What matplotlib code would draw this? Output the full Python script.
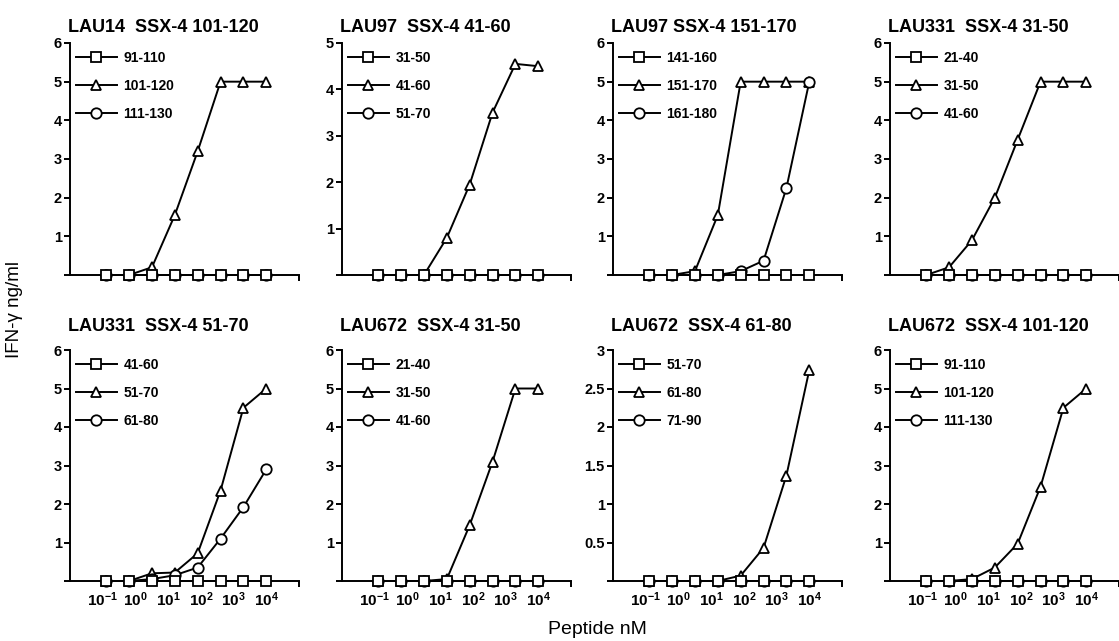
import numpy as np
import matplotlib
matplotlib.use('Agg')
import matplotlib.pyplot as plt
from matplotlib.ticker import FixedLocator, NullFormatter

plt.rcParams['font.family'] = ['Liberation Sans', 'DejaVu Sans']
plt.rcParams['mathtext.default'] = 'regular'

# peptide concentrations (nM), 5-fold dilutions
conc = [0.128, 0.64, 3.2, 16, 80, 400, 2000, 10000]

titles = ['LAU14  SSX-4 101-120', 'LAU97  SSX-4 41-60', 'LAU97 SSX-4 151-170',
          'LAU331  SSX-4 31-50', 'LAU331  SSX-4 51-70', 'LAU672  SSX-4 31-50',
          'LAU672  SSX-4 61-80', 'LAU672  SSX-4 101-120']

sq_labels = ['91-110', '31-50', '141-160', '21-40', '41-60', '21-40', '51-70', '91-110']
tri_labels = ['101-120', '41-60', '151-170', '31-50', '51-70', '31-50', '61-80', '101-120']
circ_labels = ['111-130', '51-70', '161-180', '41-60', '61-80', '41-60', '71-90', '111-130']

# IFN-gamma ng/ml, one list per panel
sq1 = [0, 0, 0, 0, 0, 0, 0, 0]
tri1 = [0, 0, 0.2, 1.55, 3.2, 5, 5, 5]
circ1 = [0, 0, 0, 0, 0, 0, 0, 0]

sq2 = [0, 0, 0, 0, 0, 0, 0, 0]
tri2 = [0, 0, 0, 0.8, 1.95, 3.5, 4.55, 4.5]
circ2 = [0, 0, 0, 0, 0, 0, 0, 0]

sq3 = [0, 0, 0, 0, 0, 0, 0, 0]
tri3 = [0, 0, 0.1, 1.55, 5, 5, 5, 5]
circ3 = [0, 0, 0, 0, 0.1, 0.37, 2.25, 5]

sq4 = [0, 0, 0, 0, 0, 0, 0, 0]
tri4 = [0, 0.2, 0.9, 2.0, 3.5, 5, 5, 5]
circ4 = [0, 0, 0, 0, 0, 0, 0, 0]

sq5 = [0, 0, 0, 0, 0, 0, 0, 0]
tri5 = [0, 0, 0.2, 0.22, 0.72, 2.35, 4.5, 5]
circ5 = [0, 0, 0.05, 0.15, 0.35, 1.1, 1.92, 2.9]

sq6 = [0, 0, 0, 0, 0, 0, 0, 0]
tri6 = [0, 0, 0, 0.05, 1.45, 3.1, 5, 5]
circ6 = [0, 0, 0, 0, 0, 0, 0, 0]

sq7 = [0, 0, 0, 0, 0, 0, 0, 0]
tri7 = [0, 0, 0, 0, 0.07, 0.43, 1.37, 2.74]
circ7 = [0, 0, 0, 0, 0, 0, 0, 0]

sq8 = [0, 0, 0, 0, 0, 0, 0, 0]
tri8 = [0, 0, 0.05, 0.35, 0.97, 2.45, 4.5, 5]
circ8 = [0, 0, 0, 0, 0, 0, 0, 0]

squares = [sq1, sq2, sq3, sq4, sq5, sq6, sq7, sq8]
triangles = [tri1, tri2, tri3, tri4, tri5, tri6, tri7, tri8]
circles = [circ1, circ2, circ3, circ4, circ5, circ6, circ7, circ8]

ymax = [6, 5, 6, 6, 6, 6, 3, 6]

W, H = 1119, 641
fig = plt.figure(figsize=(W / 100, H / 100), dpi=100)

lefts = [70, 342, 613, 890]
width = 229
rows = [(43, 275), (350, 581)]

lw = 1.4
mk = dict(markersize=7.5, markerfacecolor='white', markeredgecolor='black',
          markeredgewidth=1.3, color='black', linewidth=lw, clip_on=False)

for i in range(8):
    r, c = divmod(i, 4)
    top, bot = rows[r]
    ax = fig.add_axes([lefts[c] / W, 1 - bot / H, width / W, (bot - top) / H])

    l1, = ax.plot(conc, squares[i], marker='s', zorder=5, label=sq_labels[i], **mk)
    l2, = ax.plot(conc, triangles[i], marker='^', zorder=3, label=tri_labels[i], **mk)
    l3, = ax.plot(conc, circles[i], marker='o', zorder=4, label=circ_labels[i], **mk)

    ax.set_xscale('log')
    ax.set_xlim(1e-2, 1e5)
    ax.set_ylim(0, ymax[i])

    for s in ['top', 'right']:
        ax.spines[s].set_visible(False)
    for s in ['left', 'bottom']:
        ax.spines[s].set_linewidth(lw)

    # y ticks
    if ymax[i] == 3:
        yt = [0, 0.5, 1, 1.5, 2, 2.5, 3]
        ylab = ['', '0.5', '1', '1.5', '2', '2.5', '3']
    else:
        yt = list(range(0, ymax[i] + 1))
        ylab = [''] + [str(v) for v in yt[1:]]
    ax.set_yticks(yt)
    ax.set_yticklabels(ylab, fontsize=10.5, fontweight='bold')
    ax.tick_params(axis='y', length=4, width=lw, pad=2)

    # x ticks
    xt = [1e-1, 1, 1e1, 1e2, 1e3, 1e4]
    ax.xaxis.set_major_locator(FixedLocator(xt))
    if r == 1:
        ax.set_xticklabels(['$\\mathdefault{10^{%d}}$' % k for k in range(-1, 5)],
                           fontsize=11, fontweight='bold')
    else:
        ax.set_xticklabels([''] * len(xt))
    ax.xaxis.set_minor_locator(FixedLocator([1e3, 1e5]))
    ax.xaxis.set_minor_formatter(NullFormatter())
    ax.tick_params(axis='x', which='major', length=0, pad=7)
    ax.tick_params(axis='x', which='minor', length=4, width=lw)

    ax.set_title(titles[i], loc='left', fontsize=13, fontweight='bold',
                 pad=8 if r == 0 else 14, x=-0.01)

    ax.legend(handles=[l1, l2, l3], loc='upper left', bbox_to_anchor=(-0.012, 1.0),
              borderaxespad=0, borderpad=0.6, frameon=False, handlelength=3.0,
              handletextpad=0.45, labelspacing=1.0,
              prop={'size': 10, 'weight': 'bold'})

fig.text(15 / W, 1 - 310 / H, 'IFN-γ ng/ml', rotation=90, ha='center', va='center',
         fontsize=13.5)
fig.text(597 / W, 1 - 630 / H, 'Peptide nM', ha='center', va='center', fontsize=14)

fig.savefig('out.png', dpi=100)
